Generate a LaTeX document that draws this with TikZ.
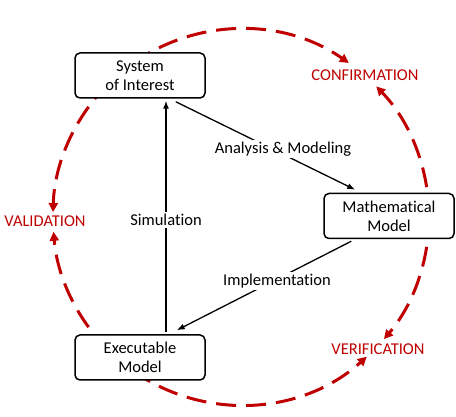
\documentclass[tikz,border=0pt]{standalone}
\usepackage{fontspec}
\setmainfont[Ligatures={NoCommon}]{Carlito}
\usetikzlibrary{arrows.meta,calc}
\definecolor{vred}{HTML}{C00000}
\begin{document}
\begin{tikzpicture}[x=1pt,y=-1pt,
  box/.style={draw,line width=1.5pt,rounded corners=5pt,fill=white,minimum width=130pt,minimum height=45pt,align=center,inner sep=2pt,font=\fontsize{16.5}{19}\selectfont},
  lbl/.style={fill=white,inner sep=2pt,font=\fontsize{16.5}{19}\selectfont},
  rlbl/.style={text=vred,inner sep=1pt,font=\fontsize{16.5}{19}\selectfont},
  flow/.style={line width=1.3pt,-{Latex[length=8pt,width=6pt]}},
  loop/.style={vred,line width=3pt,dash pattern=on 20pt off 10pt,-{Triangle[length=9pt,width=9pt]}}
]
\fill[white] (0,0) rectangle (456,417);
\useasboundingbox (0,0) rectangle (456,417);
\coordinate (C) at (241,217);
% red cycle arcs
\draw[loop] ($(C)+(125:188pt)$) arc[start angle=125,end angle=55,radius=188pt];
\draw[loop] ($(C)+(0:188pt)$) arc[start angle=0,end angle=44,radius=188pt];
\draw[loop] ($(C)+(0:188pt)$) arc[start angle=0,end angle=-40.5,radius=188pt];
\draw[loop] ($(C)+(235:188pt)$) arc[start angle=235,end angle=312,radius=188pt];
\draw[loop] ($(C)+(135:188pt)$) arc[start angle=135,end angle=178.5,radius=188pt];
\draw[loop] ($(C)+(225:188pt)$) arc[start angle=225,end angle=184.5,radius=188pt];
% boxes
\node[box] (sys) at (140,75.5) {System\\of Interest};
\node[box] (math) at (389,216) {Mathematical\\Model};
\node[box] (exe) at (140,357.5) {Executable\\Model};
% connectors
\draw[flow] ([xshift=26pt,yshift=2pt]exe.north) -- ([xshift=26pt,yshift=-2pt]sys.south);
\draw[flow] ([xshift=-30pt,yshift=-3pt]sys.south east) -- ([xshift=32pt,yshift=3pt]math.north west);
\draw[flow] ([xshift=28pt,yshift=-2pt]math.south west) -- ([xshift=-29pt,yshift=4pt]exe.north east);
% labels
\node[lbl] (sim) at (166,220) {Simulation};
\node[lbl] (ana) at (283,149) {Analysis \& Modeling};
\node[lbl] (imp) at (277,281) {Implementation};
\node[rlbl] (conf) at (365,75) {CONFIRMATION};
\node[rlbl] (val) at (45,221) {VALIDATION};
\node[rlbl] (ver) at (378,349) {VERIFICATION};
\end{tikzpicture}
\end{document}
